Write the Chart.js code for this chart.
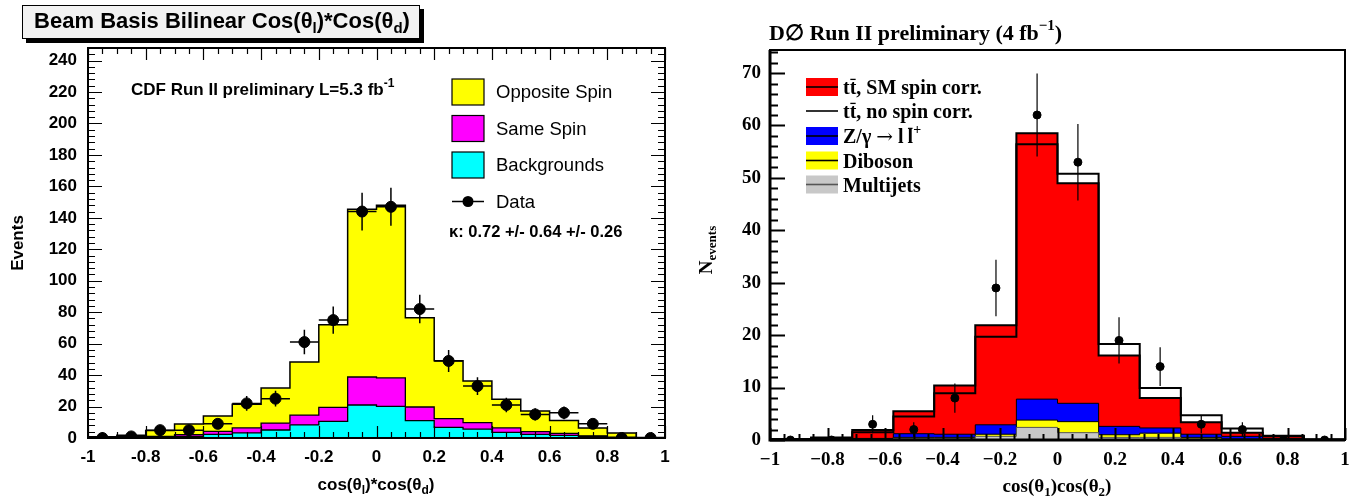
<!DOCTYPE html>
<html>
<head>
<meta charset="utf-8">
<title>Spin correlation: CDF and D0</title>
<script src="https://cdn.jsdelivr.net/npm/chart.js@4.4.1/dist/chart.umd.min.js"></script>
<style>
  html, body { margin: 0; padding: 0; background: #fff; }
  body { width: 1363px; height: 502px; position: relative; overflow: hidden; }
  canvas { position: absolute; top: 0; }
  #cdf { left: 0; }
  #d0 { left: 690px; }
</style>
</head>
<body>
<canvas id="cdf" width="690" height="502"></canvas>
<canvas id="d0" width="673" height="502"></canvas>
<script>
// ---------- CDF (left panel) ----------
const cdfEdges = [-1, -0.9, -0.8, -0.7, -0.6, -0.5, -0.4, -0.3, -0.2, -0.1, 0, 0.1, 0.2, 0.3, 0.4, 0.5, 0.6, 0.7, 0.8, 0.9, 1];
// stack tops (yellow = full stack, magenta = same spin + bkg, cyan = bkg)
const cdfOppositeTop = [0.8, 1.7, 4.7, 8.9, 14, 21.4, 31.8, 48.4, 72, 145.5, 148, 76.4, 49.2, 36.3, 24.6, 17.2, 11.2, 6.4, 3.2, 0.3];
const cdfSameTop = [0, 0.5, 1, 2.1, 4.2, 6.4, 9.5, 14.6, 19.5, 38.8, 38.2, 19.7, 12.3, 9.8, 6.4, 4, 3, 1.3, 0.5, 0];
const cdfBkg = [0, 0.2, 0.5, 1, 2.3, 3.2, 5.1, 8.3, 10.6, 21, 20.1, 11, 6.8, 5.7, 3.6, 2.3, 1.7, 1, 0.3, 0];
const cdfDataX = [-0.95, -0.85, -0.75, -0.65, -0.55, -0.45, -0.35, -0.25, -0.15, -0.05, 0.05, 0.15, 0.25, 0.35, 0.45, 0.55, 0.65, 0.75, 0.85, 0.95];
const cdfData = [0, 1, 5, 5, 9, 22, 25, 61, 75, 144, 147, 82, 49, 33, 21, 15, 16, 9, 0, 0];
const cdfDataErr = [0, 1, 2.2, 2.2, 3, 4.7, 5, 7.8, 8.7, 12, 12.1, 9.1, 7, 5.7, 4.6, 3.9, 4, 3, 0, 0];
const cdfXTicks = [-1, -0.8, -0.6, -0.4, -0.2, 0, 0.2, 0.4, 0.6, 0.8, 1];
const cdfXLabels = ['-1', '-0.8', '-0.6', '-0.4', '-0.2', '0', '0.2', '0.4', '0.6', '0.8', '1'];
const cdfYTicks = [0, 20, 40, 60, 80, 100, 120, 140, 160, 180, 200, 220, 240];

// ---------- D0 (right panel) ----------
const d0Edges = [-1, -0.857, -0.714, -0.571, -0.429, -0.286, -0.143, 0, 0.143, 0.286, 0.429, 0.571, 0.714, 0.857, 1];
const d0SmTop = [0.2, 0.4, 1.9, 5.5, 10.4, 21.9, 58.5, 49.0, 16.1, 8.0, 3.4, 1.4, 0.7, 0.1];
const d0NoSpin = [0.1, 0.5, 1.5, 4.5, 8.9, 19.7, 56.4, 50.8, 18.3, 9.9, 4.7, 2.2, 0.8, 0.1];
const d0ZTop = [0, 0.1, 0.3, 1.2, 1.1, 2.9, 7.8, 7.0, 2.6, 2.3, 1.1, 0.7, 0.3, 0.1];
const d0DibosonTop = [0, 0.1, 0.2, 0.5, 0.5, 1.1, 3.8, 3.5, 1.0, 1.3, 0.5, 0.2, 0.1, 0];
const d0Multijet = [0, 0, 0.1, 0.3, 0.3, 0.7, 2.4, 1.4, 0.5, 0.5, 0.2, 0.1, 0, 0];
const d0DataX = [-0.929, -0.786, -0.643, -0.5, -0.357, -0.214, -0.071, 0.071, 0.214, 0.357, 0.5, 0.643, 0.786, 0.929];
const d0Data = [0, 0, 3, 2, 8, 29, 62, 53, 19, 14, 3, 2, 0, 0];
const d0DataErr = [0, 0, 1.7, 1.4, 2.8, 5.4, 7.9, 7.3, 4.4, 3.7, 1.7, 1.4, 0, 0];
const d0XTicks = [-1, -0.8, -0.6, -0.4, -0.2, 0, 0.2, 0.4, 0.6, 0.8, 1];
const d0XLabels = ['\u22121', '\u22120.8', '\u22120.6', '\u22120.4', '\u22120.2', '0', '0.2', '0.4', '0.6', '0.8', '1'];
const d0YTicks = [0, 10, 20, 30, 40, 50, 60, 70];

const SANS = '"Liberation Sans", Arial, Helvetica, sans-serif';
const SERIF = '"Liberation Serif", "Times New Roman", Times, serif';
const SYMBOL = '"DejaVu Serif", serif';

// histogram outline as step points (drops to zero at both ends)
function histPoints(edges, vals) {
  const pts = [{ x: edges[0], y: 0 }];
  vals.forEach((v, i) => pts.push({ x: edges[i], y: v }));
  pts.push({ x: edges[edges.length - 1], y: vals[vals.length - 1] });
  pts.push({ x: edges[edges.length - 1], y: 0 });
  return pts;
}

function histSet(edges, vals, fillColor, lineColor, lineWidth, order) {
  return {
    data: histPoints(edges, vals),
    stepped: 'before',
    fill: fillColor ? 'origin' : false,
    backgroundColor: fillColor || 'transparent',
    borderColor: lineColor,
    borderWidth: lineWidth,
    pointRadius: 0,
    order: order
  };
}

function pointSet(xs, ys, radius) {
  return {
    data: xs.map((x, i) => ({ x: x, y: ys[i] })),
    showLine: false,
    pointRadius: radius,
    pointBackgroundColor: '#000',
    pointBorderColor: '#000',
    order: 0
  };
}

// text with sub/superscripts, overbars and symbol glyphs; parts = [[text, mode], ...]
function richText(ctx, parts, x, y, size, family, align, weight) {
  weight = weight || 'bold';
  const fontOf = m => {
    if (m === 'sym') return 'normal ' + size + 'px ' + SYMBOL;
    return weight + ' ' + ((m === 'sub' || m === 'sup') ? Math.round(size * 0.68) : size) + 'px ' + family;
  };
  let w = 0;
  parts.forEach(p => { ctx.font = fontOf(p[1]); w += ctx.measureText(p[0]).width; });
  let cx = align === 'center' ? x - w / 2 : (align === 'right' ? x - w : x);
  ctx.textAlign = 'left';
  ctx.textBaseline = 'middle';
  parts.forEach(p => {
    ctx.font = fontOf(p[1]);
    const dy = p[1] === 'sub' ? size * 0.32 : (p[1] === 'sup' ? -size * 0.38 : 0);
    const tw = ctx.measureText(p[0]).width;
    ctx.fillText(p[0], cx, y + dy);
    if (p[1] === 'bar') {
      ctx.save();
      ctx.lineWidth = 1.3;
      ctx.beginPath();
      ctx.moveTo(cx + tw * 0.1, y - size * 0.48);
      ctx.lineTo(cx + tw * 0.9, y - size * 0.48);
      ctx.stroke();
      ctx.restore();
    }
    cx += tw;
  });
}

// ROOT-like frame: inside ticks, frame box and error bars
function makeFrame(cfg) {
  return {
    id: 'rootFrame',
    afterDatasetsDraw(chart) {
      const { ctx, chartArea: a, scales: { x, y } } = chart;
      ctx.save();
      ctx.strokeStyle = '#000';
      // error bars
      ctx.lineWidth = cfg.errWidth;
      cfg.errX.forEach((xv, i) => {
        const px = x.getPixelForValue(xv);
        const py = y.getPixelForValue(cfg.errY[i]);
        ctx.beginPath();
        if (cfg.errV[i] > 0) {
          ctx.moveTo(px, y.getPixelForValue(cfg.errY[i] - cfg.errV[i]));
          ctx.lineTo(px, y.getPixelForValue(cfg.errY[i] + cfg.errV[i]));
        }
        if (cfg.errHalf) {
          ctx.moveTo(x.getPixelForValue(xv - cfg.errHalf), py);
          ctx.lineTo(x.getPixelForValue(xv + cfg.errHalf), py);
        }
        ctx.stroke();
      });
      // ticks
      ctx.lineWidth = cfg.tickWidth;
      ctx.beginPath();
      const isMajor = (v, list) => list.some(t => Math.abs(t - v) < 1e-6);
      for (let k = 0; ; k++) {
        const v = x.min + k * cfg.xMinor;
        if (v > x.max + 1e-6) break;
        const px = Math.round(x.getPixelForValue(v)) + 0.5;
        const len = isMajor(v, cfg.xMajor) ? cfg.xMajorLen : cfg.xMinorLen;
        ctx.moveTo(px, a.bottom); ctx.lineTo(px, a.bottom - len);
        if (cfg.mirror) { ctx.moveTo(px, a.top); ctx.lineTo(px, a.top + len); }
      }
      for (let k = 0; ; k++) {
        const v = y.min + k * cfg.yMinor;
        if (v > y.max + 1e-6) break;
        const py = Math.round(y.getPixelForValue(v)) + 0.5;
        const len = isMajor(v, cfg.yMajor) ? cfg.yMajorLen : cfg.yMinorLen;
        ctx.moveTo(a.left, py); ctx.lineTo(a.left + len, py);
        if (cfg.mirror) { ctx.moveTo(a.right, py); ctx.lineTo(a.right - len, py); }
      }
      ctx.stroke();
      // frame
      ctx.lineWidth = cfg.frameWidth;
      ctx.strokeRect(a.left, a.top, a.right - a.left, a.bottom - a.top);
      if (cfg.axisWidth) {
        ctx.lineWidth = cfg.axisWidth;
        ctx.beginPath();
        ctx.moveTo(a.left, a.top); ctx.lineTo(a.left, a.bottom); ctx.lineTo(a.right, a.bottom);
        ctx.stroke();
      }
      ctx.restore();
    }
  };
}

function axisScales(opt) {
  return {
    x: {
      type: 'linear', min: -1, max: 1,
      grid: { display: false, drawTicks: false }, border: { display: false },
      afterBuildTicks: s => { s.ticks = opt.xTicks.map(v => ({ value: v })); },
      afterFit: s => { s.height = opt.xHeight; },
      ticks: {
        autoSkip: false, maxRotation: 0, padding: opt.xPad, color: '#000',
        font: { family: opt.family, size: opt.tickSize, weight: 'bold' },
        callback: (v, i) => opt.xLabels[i]
      }
    },
    y: {
      type: 'linear', min: 0, max: opt.yMax,
      grid: { display: false, drawTicks: false }, border: { display: false },
      afterBuildTicks: s => { s.ticks = opt.yTicks.map(v => ({ value: v })); },
      afterFit: s => { s.width = opt.yWidth; },
      ticks: {
        autoSkip: false, padding: opt.yPad, color: '#000',
        font: { family: opt.family, size: opt.tickSize, weight: 'bold' },
        callback: v => String(v)
      }
    }
  };
}

const commonOpts = {
  responsive: false, animation: false, devicePixelRatio: 1, events: [],
  plugins: { legend: { display: false }, tooltip: { enabled: false }, title: { display: false } }
};

// ---------- left chart ----------
const cdfText = {
  id: 'cdfText',
  afterDraw(chart) {
    const ctx = chart.ctx;
    ctx.save();
    ctx.fillStyle = '#000'; ctx.strokeStyle = '#000';
    // title pave with shadow
    ctx.fillRect(26, 9, 398, 34);
    ctx.fillStyle = '#f2f2f2';
    ctx.fillRect(22, 5, 398, 34);
    ctx.lineWidth = 1;
    ctx.strokeRect(22.5, 5.5, 397, 33);
    ctx.fillStyle = '#000';
    richText(ctx, [['Beam Basis Bilinear Cos(\u03b8', 0], ['l', 'sub'], [')*Cos(\u03b8', 0], ['d', 'sub'], [')', 0]], 222, 22, 22, SANS, 'center');
    // axis titles
    richText(ctx, [['cos(\u03b8', 0], ['l', 'sub'], [')*cos(\u03b8', 0], ['d', 'sub'], [')', 0]], 376, 485, 17, SANS, 'center');
    ctx.save();
    ctx.translate(18, 243); ctx.rotate(-Math.PI / 2);
    richText(ctx, [['Events', 0]], 0, 0, 17, SANS, 'center');
    ctx.restore();
    // annotation
    richText(ctx, [['CDF Run II preliminary L=5.3 fb', 0], ['-1', 'sup']], 131, 90, 17, SANS, 'left');
    richText(ctx, [['\u03ba', 0], [': 0.72 +/- 0.64 +/- 0.26', 0]], 449, 232, 16.5, SANS, 'left');
    // legend
    const boxes = [['#ffff00', 'Opposite Spin', 92], ['#ff00ff', 'Same Spin', 128.5], ['#00ffff', 'Backgrounds', 165]];
    boxes.forEach(b => {
      ctx.fillStyle = b[0];
      ctx.fillRect(452, b[2] - 13, 32, 26);
      ctx.lineWidth = 1.2;
      ctx.strokeRect(452, b[2] - 13, 32, 26);
      ctx.fillStyle = '#000';
      richText(ctx, [[b[1], 0]], 496, b[2] + 1, 18.5, SANS, 'left', 'normal');
    });
    ctx.lineWidth = 1.5;
    ctx.beginPath(); ctx.moveTo(452, 201.5); ctx.lineTo(484, 201.5); ctx.stroke();
    ctx.beginPath(); ctx.arc(468, 201.5, 5.5, 0, Math.PI * 2); ctx.fill();
    richText(ctx, [['Data', 0]], 496, 202.5, 18.5, SANS, 'left', 'normal');
    ctx.restore();
  }
};

new Chart(document.getElementById('cdf'), {
  type: 'line',
  data: {
    datasets: [
      pointSet(cdfDataX, cdfData, 5.5),
      histSet(cdfEdges, cdfBkg, '#00ffff', '#000', 1.3, 1),
      histSet(cdfEdges, cdfSameTop, '#ff00ff', '#000', 1.3, 2),
      histSet(cdfEdges, cdfOppositeTop, '#ffff00', '#000', 1.5, 3)
    ]
  },
  options: Object.assign({}, commonOpts, {
    layout: { padding: { top: 48, right: 25, left: 0, bottom: 0 } },
    scales: axisScales({
      xTicks: cdfXTicks, xLabels: cdfXLabels, yTicks: cdfYTicks, yMax: 248,
      xHeight: 64, yWidth: 88, xPad: 9, yPad: 11, family: SANS, tickSize: 17
    })
  }),
  plugins: [makeFrame({
    errX: cdfDataX, errY: cdfData, errV: cdfDataErr, errHalf: 0.05, errWidth: 1.5,
    xMajor: cdfXTicks, xMinor: 0.05, xMajorLen: 12, xMinorLen: 6,
    yMajor: cdfYTicks, yMinor: 4, yMajorLen: 14, yMinorLen: 7,
    mirror: true, tickWidth: 1.2, frameWidth: 2
  }), cdfText]
});

// ---------- right chart ----------
const d0Text = {
  id: 'd0Text',
  afterDraw(chart) {
    const ctx = chart.ctx;
    ctx.save();
    ctx.translate(-690, 0);
    ctx.fillStyle = '#000'; ctx.strokeStyle = '#000';
    richText(ctx, [['D\u2205 Run II preliminary (4 fb', 0], ['\u22121', 'sup'], [')', 0]], 769, 34, 22, SERIF, 'left');
    richText(ctx, [['cos(\u03b8', 0], ['1', 'sub'], [')cos(\u03b8', 0], ['2', 'sub'], [')', 0]], 1057, 487, 19, SERIF, 'center');
    ctx.save();
    ctx.translate(707, 250); ctx.rotate(-Math.PI / 2);
    richText(ctx, [['N', 0], ['events', 'sub']], 0, 0, 19, SERIF, 'center');
    ctx.restore();
    // legend
    const rows = [
      ['#ff0000', '#000', [['t', 0], ['t', 'bar'], [', SM spin corr.', 0]], 87],
      [null, '#000', [['t', 0], ['t', 'bar'], [', no spin corr.', 0]], 111],
      ['#0000ff', '#000', [['Z/\u03b3 ', 0], ['\u2192', 'sym'], [' l\u2009', 0], ['l', 'bar'], ['+', 'sup']], 136],
      ['#ffff00', '#000', [['Diboson', 0]], 160.5],
      ['#c8c8c8', '#555', [['Multijets', 0]], 184.5]
    ];
    rows.forEach(r => {
      if (r[0]) { ctx.fillStyle = r[0]; ctx.fillRect(806, r[3] - 9, 32, 18); }
      ctx.strokeStyle = r[1]; ctx.lineWidth = 1.6;
      ctx.beginPath(); ctx.moveTo(806, r[3]); ctx.lineTo(838, r[3]); ctx.stroke();
      ctx.fillStyle = '#000'; ctx.strokeStyle = '#000';
      richText(ctx, r[2], 843, r[3] + 2, 20, SERIF, 'left');
    });
    ctx.restore();
  }
};

new Chart(document.getElementById('d0'), {
  type: 'line',
  data: {
    datasets: [
      pointSet(d0DataX, d0Data, 4),
      histSet(d0Edges, d0NoSpin, null, '#000', 2, 1),
      histSet(d0Edges, d0Multijet, '#c8c8c8', '#555', 1, 2),
      histSet(d0Edges, d0DibosonTop, '#ffff00', '#000', 1, 3),
      histSet(d0Edges, d0ZTop, '#0000ff', '#000', 1, 4),
      histSet(d0Edges, d0SmTop, '#ff0000', '#000', 2, 5)
    ]
  },
  options: Object.assign({}, commonOpts, {
    layout: { padding: { top: 50, right: 18, left: 0, bottom: 0 } },
    scales: axisScales({
      xTicks: d0XTicks, xLabels: d0XLabels, yTicks: d0YTicks, yMax: 74.4,
      xHeight: 62, yWidth: 80, xPad: 9, yPad: 9, family: SERIF, tickSize: 19
    })
  }),
  plugins: [makeFrame({
    errX: d0DataX, errY: d0Data, errV: d0DataErr, errHalf: 0, errWidth: 1.2,
    xMajor: d0XTicks, xMinor: 0.05, xMajorLen: 12, xMinorLen: 6,
    yMajor: d0YTicks, yMinor: 2, yMajorLen: 15, yMinorLen: 8,
    mirror: false, tickWidth: 2, frameWidth: 2, axisWidth: 3
  }), d0Text]
});
</script>
</body>
</html>
